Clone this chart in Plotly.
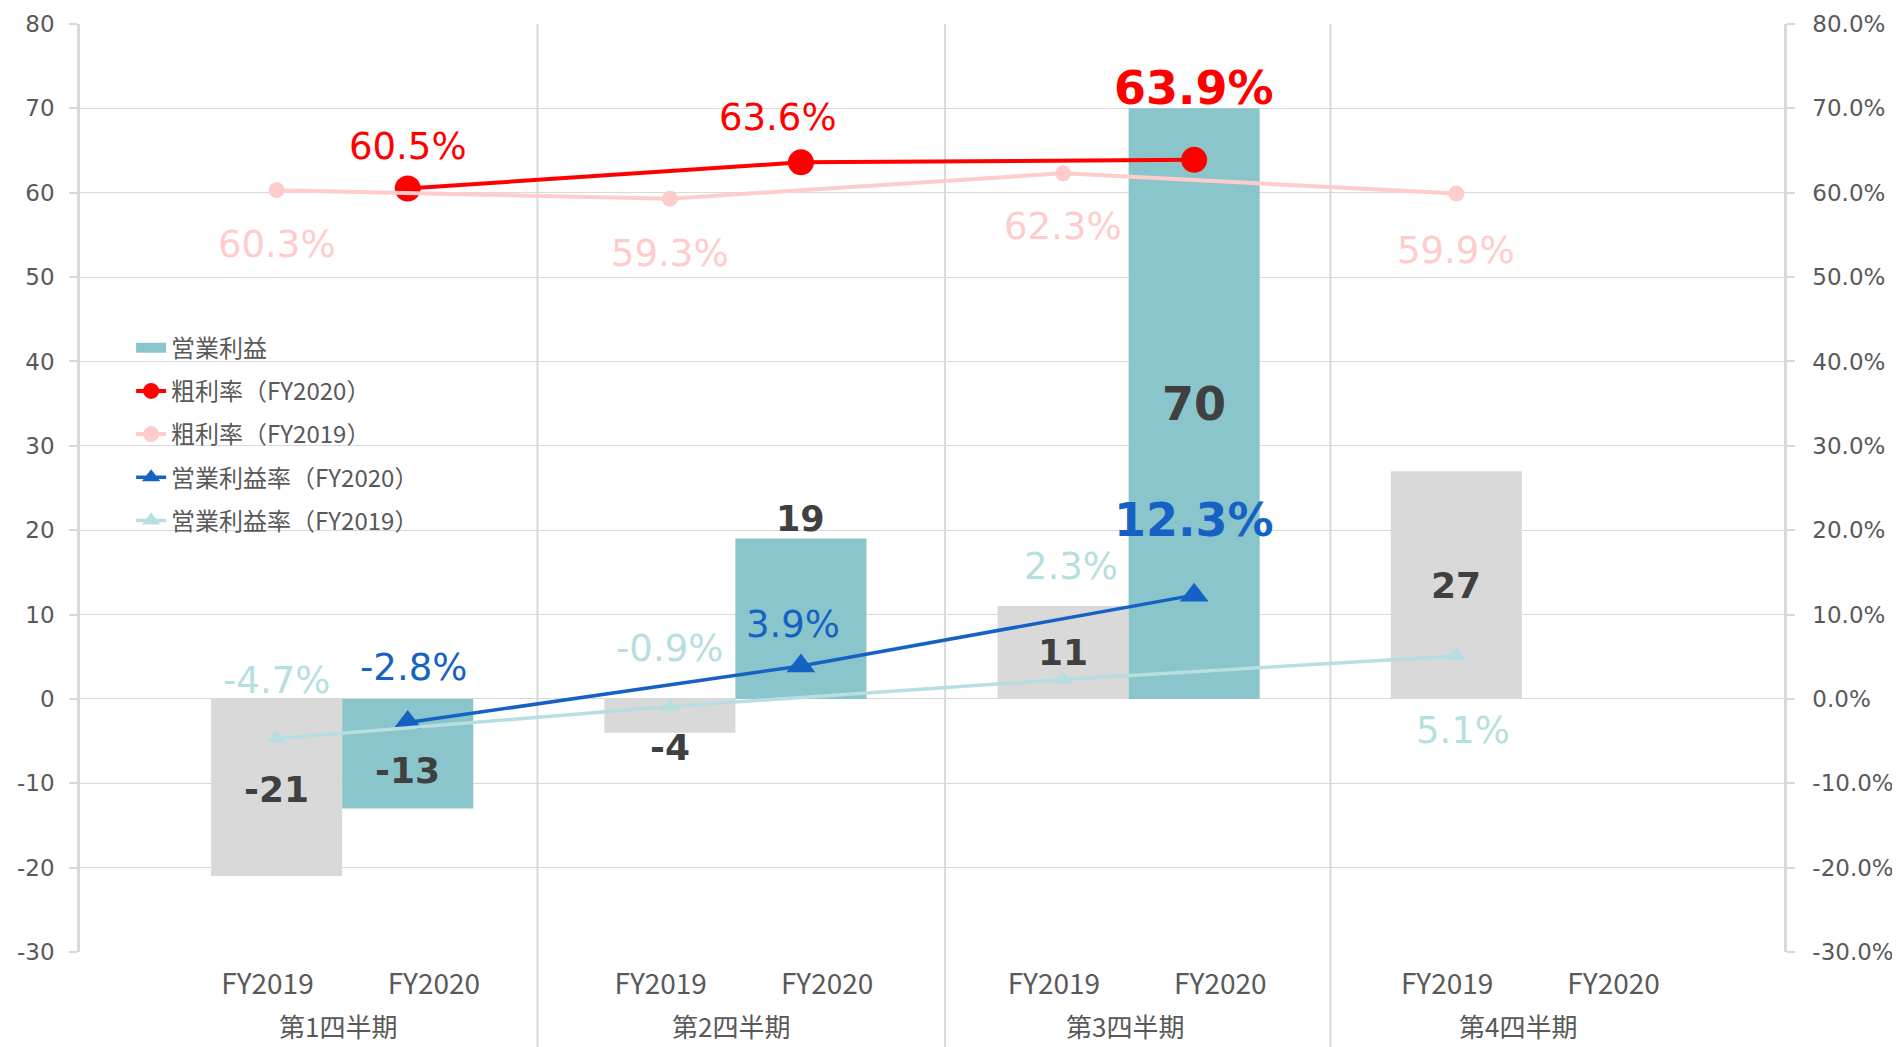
import plotly.graph_objects as go

# ---------------- data ----------------
quarters = ["第1四半期", "第2四半期", "第3四半期", "第4四半期"]
fiscal_years = ["FY2019", "FY2020"]

op_profit_fy2019 = [-21, -4, 11, 27]
op_profit_fy2020 = [-13, 19, 70, None]

gross_margin_fy2020 = [60.5, 63.6, 63.9, None]
gross_margin_fy2019 = [60.3, 59.3, 62.3, 59.9]
op_margin_fy2020 = [-2.8, 3.9, 12.3, None]
op_margin_fy2019 = [-4.7, -0.9, 2.3, 5.1]

left_ticks = [-30, -20, -10, 0, 10, 20, 30, 40, 50, 60, 70, 80]
left_ticktext = [str(v) for v in left_ticks]
right_ticktext = [f"{v:.1f}%" for v in left_ticks]

# ---------------- styles ----------------
C_TEAL = "#8BC5CC"
C_GRAY = "#D9D9D9"
C_RED = "#FF0000"
C_PINK = "#FFCCCC"
C_BLUE = "#1662C4"
C_LBLUE = "#B7DEE1"
C_TXT = "#595959"
C_LBL = "#404040"
NUMFONT = "DejaVu Sans"
JPFONT = "Noto Sans CJK JP"


def xpos(q, f):
    # one blank category before each quarter group, unit-width categories
    return 1.5 + 3 * q + f


x19 = [xpos(q, 0) for q in range(len(quarters))]
x20 = [xpos(q, 1) for q in range(len(quarters))]

fig = go.Figure()

fig.add_trace(go.Bar(x=x19, y=op_profit_fy2019, width=1, marker_color=C_GRAY,
                     marker_line_width=0, showlegend=False, name="営業利益（FY2019）"))
fig.add_trace(go.Bar(x=x20, y=op_profit_fy2020, width=1, marker_color=C_TEAL,
                     marker_line_width=0, showlegend=False, name="営業利益"))
# legend entry for the bars (wide swatch like the original)
fig.add_trace(go.Scatter(x=[None], y=[None], mode="lines", line=dict(color=C_TEAL, width=15),
                         name="営業利益", legendgroup="a"))

fig.add_trace(go.Scatter(x=x20, y=gross_margin_fy2020, yaxis="y2", mode="lines+markers",
                         line=dict(color=C_RED, width=4), marker=dict(size=26, color=C_RED),
                         name="粗利率（FY2020）", legendgroup="b"))
fig.add_trace(go.Scatter(x=x19, y=gross_margin_fy2019, yaxis="y2", mode="lines+markers",
                         line=dict(color=C_PINK, width=4), marker=dict(size=16, color=C_PINK),
                         name="粗利率（FY2019）", legendgroup="c"))
fig.add_trace(go.Scatter(x=x20, y=op_margin_fy2020, yaxis="y2", mode="lines+markers",
                         line=dict(color=C_BLUE, width=3.5),
                         marker=dict(size=25, color=C_BLUE, symbol="triangle-up"),
                         name="営業利益率（FY2020）", legendgroup="d"))
fig.add_trace(go.Scatter(x=x19, y=op_margin_fy2019, yaxis="y2", mode="lines+markers",
                         line=dict(color=C_LBLUE, width=3.5),
                         marker=dict(size=17, color=C_LBLUE, symbol="triangle-up"),
                         name="営業利益率（FY2019）", legendgroup="e"))

annotations = []


def add_labels(xs, ys, fmt, color, sizes, bolds, yshifts, xshifts, yref):
    for i, (xv, yv) in enumerate(zip(xs, ys)):
        if yv is None:
            continue
        txt = fmt(yv)
        if bolds[i]:
            txt = "<b>" + txt + "</b>"
        annotations.append(dict(x=xv, y=yv, xref="x", yref=yref, text=txt, showarrow=False,
                                xanchor="center", yanchor="middle",
                                yshift=yshifts[i], xshift=xshifts[i],
                                font=dict(family=NUMFONT, size=sizes[i], color=color)))


pct = lambda v: f"{v:.1f}%"
add_labels(x20, gross_margin_fy2020, pct, C_RED, [37, 37, 46], [False, False, True],
           [42, 45, 72], [0, -23, 0], "y2")
add_labels(x19, gross_margin_fy2019, pct, C_PINK, [37] * 4, [False] * 4,
           [-54, -55, -53, -57], [0, 0, 0, 0], "y2")
add_labels(x20, op_margin_fy2020, pct, C_BLUE, [37, 37, 46], [False, False, True],
           [55, 42, 75], [6, -8, 0], "y2")
add_labels(x19, op_margin_fy2019, pct, C_LBLUE, [37] * 4, [False] * 4,
           [58, 58, 113, -75], [0, 0, 8, 7], "y2")


# bar value labels (placed at bar middle / outside end)
def bar_labels(xs, vals, modes, sizes, yshifts):
    for i, (xv, v) in enumerate(zip(xs, vals)):
        if v is None:
            continue
        yv = v / 2 if modes[i] == "mid" else v
        annotations.append(dict(x=xv, y=yv, xref="x", yref="y", text=f"<b>{v}</b>",
                                showarrow=False, xanchor="center", yanchor="middle",
                                yshift=yshifts[i],
                                font=dict(family=NUMFONT, size=sizes[i], color=C_LBL)))


bar_labels(x19, op_profit_fy2019, ["mid", "end", "mid", "mid"], [36, 36, 36, 36], [-2, -15, 0, 0])
bar_labels(x20, op_profit_fy2020, ["mid", "end", "mid", None], [36, 35, 46, 36], [-17, 20, 0, 0])

# quarter group labels
for q, name in enumerate(quarters):
    annotations.append(dict(x=(xpos(q, 0) + xpos(q, 1)) / 2 - 0.03, y=-0.079, xref="x",
                            yref="paper", text=name, showarrow=False, xanchor="center",
                            yanchor="middle", font=dict(family=JPFONT, size=26, color=C_TXT)))

# group separators
shapes = []
for sx in [3.49, 6.6, 9.54]:
    shapes.append(dict(type="line", xref="x", yref="paper", x0=sx, x1=sx, y0=-0.11, y1=1,
                       line=dict(color=C_GRAY, width=2), layer="below"))

tickvals = []
ticktext = []
for q in range(len(quarters)):
    tickvals += [xpos(q, 0) - 0.07, xpos(q, 1) + 0.2]
    ticktext += fiscal_years

# the page body has an 8px margin, so the figure is offset by 8px in the window
fig.update_layout(
    width=1892, height=1039,
    margin=dict(l=72, r=116, t=16, b=95),
    paper_bgcolor="white", plot_bgcolor="white",
    barmode="overlay",
    showlegend=True,
    legend=dict(x=0.03, y=0.675, xanchor="left", yanchor="top", bgcolor="rgba(0,0,0,0)",
                font=dict(family=JPFONT, size=24, color=C_TXT), tracegroupgap=9,
                traceorder="grouped"),
    xaxis=dict(range=[0, 13], showgrid=False, zeroline=False, showline=False,
               automargin=False,
               tickvals=tickvals, ticktext=ticktext, ticks="", ticklabelstandoff=13,
               tickfont=dict(family=JPFONT, size=28, color=C_TXT)),
    yaxis=dict(range=[-30, 80], tickvals=left_ticks, ticktext=left_ticktext,
               automargin=False, showgrid=True, gridcolor=C_GRAY,
               gridwidth=1.3, zeroline=False, showline=True, linecolor=C_GRAY, linewidth=2.5,
               ticks="outside", ticklen=8, tickcolor=C_GRAY, tickwidth=2,
               ticklabelstandoff=10,
               tickfont=dict(family=NUMFONT, size=23, color=C_TXT)),
    yaxis2=dict(range=[-30, 80], tickvals=left_ticks, ticktext=right_ticktext,
                overlaying="y", side="right", automargin=False,
                showgrid=False, zeroline=False, showline=True, linecolor=C_GRAY,
                linewidth=2.5, ticks="outside", ticklen=8, tickcolor=C_GRAY, tickwidth=2,
                ticklabelstandoff=13,
                tickfont=dict(family=NUMFONT, size=23, color=C_TXT)),
    annotations=annotations,
    shapes=shapes,
)

fig.write_html("out.html")
